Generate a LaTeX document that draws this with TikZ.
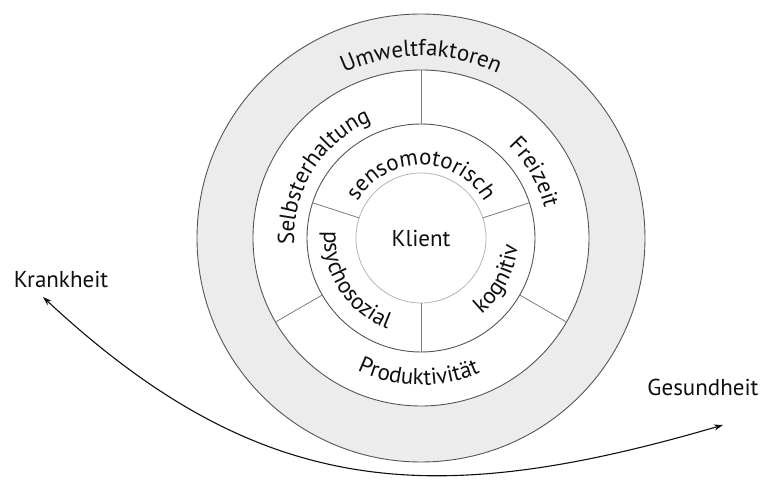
\documentclass[tikz,border=0pt]{standalone}
\usepackage{fontspec}
\setmainfont{PT Sans}
\usetikzlibrary{decorations.text, arrows.meta}

\definecolor{ringfill}{RGB}{236,236,236}
\definecolor{ringline}{RGB}{85,85,85}
\definecolor{coreline}{RGB}{180,180,180}
\definecolor{divline}{RGB}{125,125,125}
\definecolor{ink}{RGB}{15,15,15}
\newcommand\lblfont{\fontsize{23}{27}\selectfont\color{ink}}

\begin{document}
\begin{tikzpicture}[x=1pt, y=1pt,
  ring/.style={circle, inner sep=0pt, outer sep=0pt, minimum size=#1},
  divider/.style={draw=divline, line width=0.8pt},
  label/.style={font=\lblfont, text=ink, inner sep=0pt},
  arctext/.style={decorate, decoration={text along path, text align=center, text={|\lblfont|#1}}},
  arrowline/.style={draw=ink, line width=1.1pt,
    {Stealth[length=9pt,width=6pt]}-{Stealth[length=9pt,width=6pt]}}
]
\useasboundingbox (-421,-243) rectangle (345,238);

% concentric rings
\node[ring=448pt, fill=ringfill, draw=ringline, line width=0.9pt] (outer) at (0,0) {};
\node[ring=336pt, fill=white, draw=ringline, line width=0.9pt] (area) at (0,0) {};
\node[ring=228pt, draw=ringline, line width=0.9pt] (comp) at (0,0) {};
\node[ring=130pt, draw=coreline, line width=0.8pt] (core) at (0,0) {};

% sector borders of the occupation ring
\draw[divider] (comp.90)  -- (area.90);
\draw[divider] (comp.210) -- (area.210);
\draw[divider] (comp.330) -- (area.330);

% sector borders of the performance ring
\draw[divider] (core.18)  -- (comp.18);
\draw[divider] (core.162) -- (comp.162);
\draw[divider] (core.270) -- (comp.270);

% curved labels
\path[arctext=Umweltfaktoren] (150:182) arc[start angle=150, end angle=30, radius=182];
\path[arctext=Selbsterhaltung] (198:127) arc[start angle=198, end angle=98, radius=127];
\path[arctext=Freizeit] (60:127) arc[start angle=60, end angle=0, radius=127];
\path[arctext=Produktivität] (229:147) arc[start angle=229, end angle=309, radius=147];
\path[arctext=sensomotorisch] (170:73) arc[start angle=170, end angle=10, radius=73];
\path[arctext=psychosozial] (168:97) arc[start angle=168, end angle=258, radius=97];
\path[arctext=kognitiv] (297:97) arc[start angle=297, end angle=367, radius=97];

\node[label] (klient) at (0,0) {Klient};

% health continuum
\node[label] (krank) at (-360,-41) {Krankheit};
\node[label] (gesund) at (282,-149) {Gesundheit};
\coordinate (ktip) at (-378,-59);
\coordinate (gtip) at (302,-187);
\draw[arrowline] (ktip) .. controls (-159,-263) and (14,-271) .. (gtip);
\end{tikzpicture}
\end{document}
